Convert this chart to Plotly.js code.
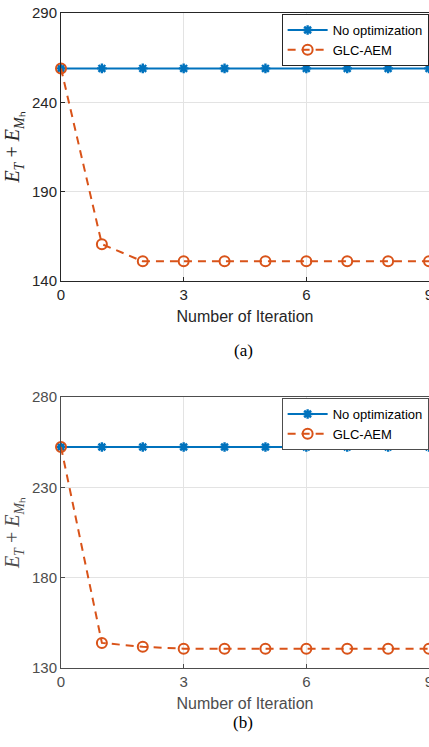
<!DOCTYPE html>
<html>
<head>
<meta charset="utf-8">
<script src="https://cdn.plot.ly/plotly-3.0.1.min.js"></script>
<style>html,body{margin:0;padding:0;background:#fff;}#chart{width:429px;height:747px;}</style>
</head>
<body>
<div id="chart"></div>
<script>
// Data
const iterations = [0, 1, 2, 3, 4, 5, 6, 7, 8, 9];
const noOptA = [259, 259, 259, 259, 259, 259, 259, 259, 259, 259];
const glcA   = [259, 160.6, 151, 151, 151, 151, 151, 151, 151, 151];
const noOptB = [252.3, 252.3, 252.3, 252.3, 252.3, 252.3, 252.3, 252.3, 252.3, 252.3];
const glcB   = [252.3, 143.9, 141.7, 140.7, 140.7, 140.7, 140.7, 140.7, 140.7, 140.7];
const xTicks = [0, 3, 6, 9];
const yTicksA = [140, 190, 240, 290];
const yTicksB = [130, 180, 230, 280];
const seriesNames = ['No optimization', 'GLC-AEM'];
const captions = ['(a)', '(b)'];

const blue = '#0072BD', orange = '#D95319';
const H = 747;
const py = p => 1 - p / H;

function blueTrace(y, xa, ya, lg) {
  return {x: iterations, y: y, xaxis: xa, yaxis: ya, legend: lg, name: seriesNames[0],
    mode: 'lines+markers', line: {color: blue, width: 2},
    marker: {symbol: 'asterisk-open', size: 8, color: blue, line: {color: blue, width: 2.4}},
    cliponaxis: false};
}
function orangeTrace(y, xa, ya, lg) {
  return {x: iterations, y: y, xaxis: xa, yaxis: ya, legend: lg, name: seriesNames[1],
    mode: 'lines+markers', line: {color: orange, width: 2, dash: '8px,6px'},
    marker: {symbol: 'circle-open', size: 10, color: orange, line: {color: orange, width: 2}},
    cliponaxis: false};
}

const traces = [
  blueTrace(noOptA, 'x', 'y', 'legend'),
  orangeTrace(glcA, 'x', 'y', 'legend'),
  blueTrace(noOptB, 'x2', 'y2', 'legend2'),
  orangeTrace(glcB, 'x2', 'y2', 'legend2')
];

function xaxis(anchor, col) {
  return {anchor: anchor, domain: [0, 1], range: [0, 9], tickvals: xTicks,
    showline: true, mirror: true, linecolor: col, linewidth: 1,
    ticks: 'inside', ticklen: 4, tickcolor: col, ticklabeloverflow: 'allow',
    showgrid: true, gridcolor: '#e3e3e3', zeroline: false,
    tickfont: {family: 'Liberation Sans, Arial, sans-serif', size: 15, color: col},
    title: {text: 'Number of Iteration', font: {family: 'Liberation Sans, Arial, sans-serif', size: 16, color: col}, standoff: 8}};
}
function yaxis(anchor, dom, range, ticks, col) {
  return {anchor: anchor, domain: dom, range: range, tickvals: ticks,
    showline: true, mirror: true, linecolor: col, linewidth: 1,
    ticks: 'inside', ticklen: 4, tickcolor: col,
    showgrid: true, gridcolor: '#e3e3e3', zeroline: false,
    tickfont: {family: 'Liberation Sans, Arial, sans-serif', size: 15, color: col},
    title: {text: '<i>E</i><sub><i>T</i></sub> + <i>E</i><sub><i>M</i>\u2095</sub>',
      font: {family: 'Liberation Serif, Times New Roman, serif', size: 20, color: col}, standoff: 6}};
}
const legFont = {family: 'Liberation Sans, Arial, sans-serif', size: 13, color: '#000'};

const layout = {
  width: 429, height: H,
  margin: {l: 61, r: 0, t: 0, b: 0},
  paper_bgcolor: '#fff', plot_bgcolor: '#fff',
  showlegend: true,
  xaxis: xaxis('y', '#262626'),
  yaxis: yaxis('x', [py(281), py(13)], [140, 290], yTicksA, '#262626'),
  xaxis2: xaxis('y2', '#4d4d4d'),
  yaxis2: yaxis('x2', [py(668), py(397)], [130, 280], yTicksB, '#4d4d4d'),
  legend: {x: 0.999, xanchor: 'right', y: py(14), yanchor: 'top', bgcolor: '#fff',
    bordercolor: '#262626', borderwidth: 1, font: legFont, tracegroupgap: 0, itemwidth: 40},
  legend2: {x: 0.999, xanchor: 'right', y: py(398), yanchor: 'top', bgcolor: '#fff',
    bordercolor: '#4d4d4d', borderwidth: 1, font: legFont, tracegroupgap: 0, itemwidth: 40},
  annotations: [
    {text: captions[0], xref: 'paper', yref: 'paper', x: 0.495, y: py(350), showarrow: false,
      font: {family: 'Liberation Serif, Times New Roman, serif', size: 17, color: '#000'}},
    {text: captions[1], xref: 'paper', yref: 'paper', x: 0.495, y: py(734), showarrow: false,
      font: {family: 'Liberation Serif, Times New Roman, serif', size: 17, color: '#000'}}
  ]
};

Plotly.newPlot('chart', traces, layout, {displayModeBar: false, staticPlot: true});
</script>
</body>
</html>
